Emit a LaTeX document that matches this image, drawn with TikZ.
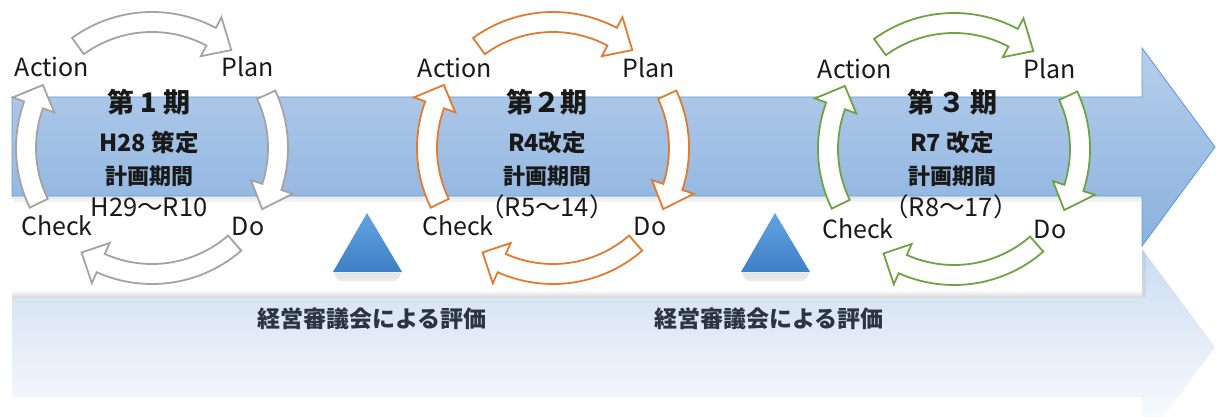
\documentclass[tikz,border=0pt]{standalone}
\usepackage{fontspec}
\setmainfont{Noto Sans CJK JP}
\usetikzlibrary{calc}
\definecolor{cgrey}{RGB}{163,163,163}
\definecolor{corange}{RGB}{226,122,48}
\definecolor{cgreen}{RGB}{110,163,68}
\definecolor{bandtop}{RGB}{182,206,236}
\definecolor{bandbot}{RGB}{138,177,222}
\definecolor{bandedge}{RGB}{98,158,214}
\definecolor{refltop}{RGB}{203,220,240}
\definecolor{tritop}{RGB}{98,163,224}
\definecolor{tribot}{RGB}{62,128,198}
\definecolor{evaltext}{RGB}{43,52,64}
\definecolor{txt}{RGB}{25,25,25}
\tikzset{
  cyc/.style={line width=1.8pt, fill=white, draw=#1, line join=miter},
  lbl/.style={font=\fontsize{25}{25}\selectfont, text=txt, inner sep=0pt},
  ttl/.style={font=\bfseries\fontsize{27}{27}\selectfont, text=txt, inner sep=0pt},
  sub/.style={font=\bfseries\fontsize{23.5}{24}\selectfont, text=txt, inner sep=0pt},
  gaku/.style={font=\bfseries\fontsize{22}{22}\selectfont, text=txt, inner sep=0pt},
  per/.style={font=\fontsize{25.5}{26}\selectfont, text=txt, inner sep=0pt},
  evl/.style={font=\bfseries\fontsize{23}{23}\selectfont, text=evaltext, inner sep=0pt},
  tri/.style={top color=tritop, bottom color=tribot, draw=none},
}
% #1 centre, #2 tail angle, #3 head base angle, #4 tip angle, #5 colour
\newcommand\cycarrow[5]{%
  \draw[cyc=#5] ($(#1)+(#2:136)$) arc[start angle=#2, end angle=#3, radius=136]
    -- ($(#1)+(#3:148)$) -- ($(#1)+(#4:126)$) -- ($(#1)+(#3:104)$)
    -- ($(#1)+(#3:116)$) arc[start angle=#3, end angle=#2, radius=116] -- cycle;}
\newcommand\pdcacycle[2]{%
  \cycarrow{#1}{126}{62}{51}{#2}
  \cycarrow{#1}{25}{-18}{-29}{#2}
  \cycarrow{#1}{-49}{-114}{-124}{#2}
  \cycarrow{#1}{206}{160}{150}{#2}}
\begin{document}
\begin{tikzpicture}[x=1pt,y=1pt]
\useasboundingbox (0,0) rectangle (1221,416);
\clip (0,0) rectangle (1221,416);
\fill[white] (0,0) rectangle (1221,416);
% reflection of the big arrow
\shade[top color=refltop, bottom color=white]
  (12,119) -- (1142,119) -- (1142,167) -- (1215,69) -- (1142,-30) -- (1142,19) -- (12,19) -- cycle;
% white panel with shadow
\fill[white] (0,119) rectangle (1142,216);
\shade[top color=white, bottom color=black!14] (12,119) rectangle (1142,126);
\fill[black,opacity=0.05] (1142,119) rectangle (1146,166);
% triangles
\foreach \x in {367,775}{
  \fill[black,opacity=0.10] (\x-33,143) -- (\x+34,143) -- (\x+32,138) -- (\x-31,138) -- cycle;
  \fill[black,opacity=0.08] (\x-31,138) -- (\x+32,138) -- (\x+28,135) -- (\x-27,135) -- cycle;
  \path[tri] (\x,203) -- (\x+35,144) -- (\x-34,144) -- cycle;
}
% big arrow shadow and arrow
\fill[black,opacity=0.08] (12,217) rectangle (1142,220);
\fill[black,opacity=0.05] (14,214) rectangle (1142,217);
\shade[top color=bandtop, bottom color=bandbot, draw=bandedge, line width=0.9pt]
  (12,220) -- (12,319) -- (1142,319) -- (1142,368) -- (1215,269) -- (1142,170) -- (1142,220) -- cycle;
% evaluation labels
\node[evl] (e1) at (372,97) {経営審議会による評価};
\node[evl] (e2) at (769,97) {経営審議会による評価};
% cycles
\coordinate (c1) at (152,268);
\coordinate (c2) at (553,268);
\coordinate (c3) at (954,267);
\pdcacycle{c1}{cgrey}
\pdcacycle{c2}{corange}
\pdcacycle{c3}{cgreen}
% labels cycle 1
\node[lbl] (a1) at (52,349) {Action};
\node[lbl] (p1) at (248,349) {Plan};
\node[lbl] (k1) at (57,190) {Check};
\node[lbl] (d1) at (248,190) {Do};
\node[ttl] (t1) at (149,314) {第 1 期};
\node[sub] (s1) at (149,273) {H28 策定};
\node[gaku] (g1) at (149,240) {計画期間};
\node[per] (r1) at (149,209) {H29～R10};
% labels cycle 2
\node[lbl] (a2) at (455,348) {Action};
\node[lbl] (p2) at (649,348) {Plan};
\node[lbl] (k2) at (458,190) {Check};
\node[lbl] (d2) at (650,190) {Do};
\node[ttl] (t2) at (547,314) {第２期};
\node[sub] (s2) at (547,273) {R4改定};
\node[gaku] (g2) at (547,240) {計画期間};
\node[per] (r2) at (547,209) {（R5～14）};
% labels cycle 3
\node[lbl] (a3) at (855,347) {Action};
\node[lbl] (p3) at (1050,347) {Plan};
\node[lbl] (k3) at (858,187) {Check};
\node[lbl] (d3) at (1050,187) {Do};
\node[ttl] (t3) at (952,314) {第\,３\,期};
\node[sub] (s3) at (952,273) {R7 改定};
\node[gaku] (g3) at (952,240) {計画期間};
\node[per] (r3) at (951,209) {（R8～17）};
\end{tikzpicture}
\end{document}
